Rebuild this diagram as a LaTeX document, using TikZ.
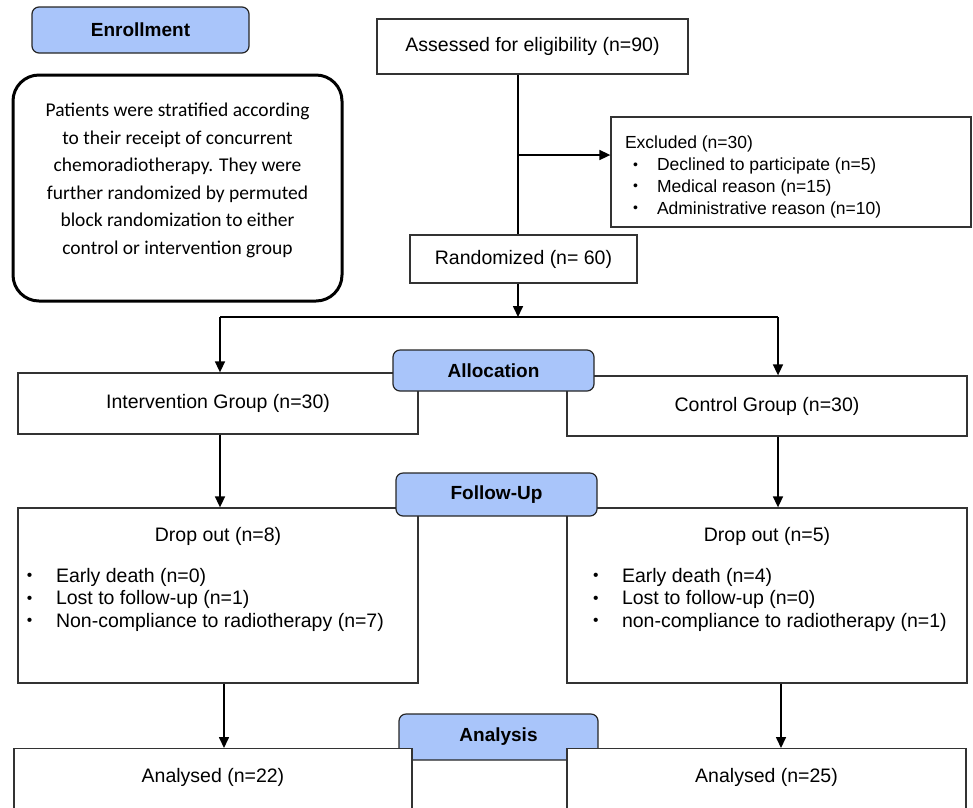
\documentclass[tikz,border=0pt]{standalone}
\usepackage{fontspec}
\setmainfont{Liberation Sans}
\newfontfamily\calibrifont{Carlito}
\usetikzlibrary{arrows.meta,positioning}
\definecolor{phaseblue}{RGB}{169,197,250}
\newcommand{\bul}{\raisebox{0.15ex}{\scalebox{0.8}{\textbullet}}}

\begin{document}
\begin{tikzpicture}[x=1pt, y=-1pt, line width=1.6pt, >={Triangle[length=11pt,width=10pt]},
  font=\fontsize{19.5}{23}\selectfont]
\tikzstyle{box}=[draw=black!80, line width=1.3pt, fill=white, inner sep=0pt]
\tikzstyle{phase}=[draw=black!85, line width=1.2pt, fill=phaseblue, rounded corners=7pt,
  inner sep=0pt, font=\fontsize{19}{23}\selectfont\bfseries]
\tikzstyle{stratbox}=[draw=black, line width=3pt, fill=white, rounded corners=26pt, inner sep=0pt]
\useasboundingbox (0,0) rectangle (973,807);

% enrollment
\node[phase, minimum width=217pt, minimum height=46pt] (enrollment) at (140.5,30) {Enrollment};
\node[stratbox] (strat) at (177.5,188) {\parbox[c][226pt][t]{329pt}{\centering
  \calibrifont\fontsize{19.5}{27.5}\selectfont\vspace*{28pt}%
  Patients were stratified according\\ to their receipt of concurrent\\
  chemoradiotherapy. They were\\ further randomized by permuted\\
  block randomization to either\\ control or intervention group}};
\node[box, minimum width=311pt, minimum height=55pt] (assessed) at (532.5,46.5) {Assessed for eligibility (n=90)};
\node[box] (excluded) at (791,172) {\parbox[c][110pt][t]{360pt}{\fontsize{17.5}{21.8}\selectfont
  \vspace*{19pt}\hspace*{14pt}Excluded (n=30)\par
  \hspace*{22pt}\makebox[24pt][l]{\bul}Declined to participate (n=5)\par
  \hspace*{22pt}\makebox[24pt][l]{\bul}Medical reason (n=15)\par
  \hspace*{22pt}\makebox[24pt][l]{\bul}Administrative reason (n=10)}};
\node[box, minimum width=227pt, minimum height=48pt] (randomized) at (523.5,259) {Randomized (n= 60)};

% allocation
\node[box, minimum width=400pt, minimum height=61pt] (intervention) at (218,403.5) {Intervention Group (n=30)};
\node[box, minimum width=400pt, minimum height=60pt] (control) at (767,406) {Control Group (n=30)};
\node[phase, minimum width=201pt, minimum height=41pt] (allocation) at (493.5,370.5) {Allocation};

% follow-up
\node[box] (dropL) at (218,595.5) {\parbox[c][175pt][t]{400pt}{\fontsize{19.5}{22.5}\selectfont
  \vspace*{19pt}{\centering Drop out (n=8)\par}\vspace{18.5pt}
  \hspace*{9pt}\makebox[29pt][l]{\bul}Early death (n=0)\par
  \hspace*{9pt}\makebox[29pt][l]{\bul}Lost to follow-up (n=1)\par
  \hspace*{9pt}\makebox[29pt][l]{\bul}Non-compliance to radiotherapy (n=7)}};
\node[box] (dropR) at (767,595.5) {\parbox[c][175pt][t]{400pt}{\fontsize{19.5}{22.5}\selectfont
  \vspace*{19pt}{\centering Drop out (n=5)\par}\vspace{18.5pt}
  \hspace*{26pt}\makebox[29pt][l]{\bul}Early death (n=4)\par
  \hspace*{26pt}\makebox[29pt][l]{\bul}Lost to follow-up (n=0)\par
  \hspace*{26pt}\makebox[29pt][l]{\bul}non-compliance to radiotherapy (n=1)}};
\node[phase, minimum width=201pt, minimum height=43pt] (followup) at (496.5,494.5) {Follow-Up};

% analysis
\node[phase, minimum width=199pt, minimum height=46pt] (analysis) at (498.5,737) {Analysis};
\node[box, anchor=north, minimum width=398pt, text height=34pt, text depth=70pt] (analysedL) at (213,748) {Analysed (n=22)};
\node[box, anchor=north, minimum width=399pt, text height=34pt, text depth=70pt] (analysedR) at (766.5,748) {Analysed (n=25)};

\coordinate (trunk) at (518,155);
\coordinate (split) at (518,317);
\coordinate (colL) at (220,317);
\coordinate (colR) at (778,317);
\coordinate (lowL) at (224,0);
\coordinate (lowR) at (781,0);

\draw (assessed.south -| trunk) -- (randomized.north -| trunk);
\draw[->] (trunk) -- (trunk -| excluded.west);
\draw[->] (randomized.south -| split) -- (split);
\draw (colL) -- (colR);
\draw[->] (colL) -- (colL |- intervention.north);
\draw[->] (colR) -- (colR |- control.north);
\draw[->] (colL |- intervention.south) -- (colL |- dropL.north);
\draw[->] (colR |- control.south) -- (colR |- dropR.north);
\draw[->] (lowL |- dropL.south) -- (lowL |- analysedL.north);
\draw[->] (lowR |- dropR.south) -- (lowR |- analysedR.north);
\end{tikzpicture}
\end{document}
